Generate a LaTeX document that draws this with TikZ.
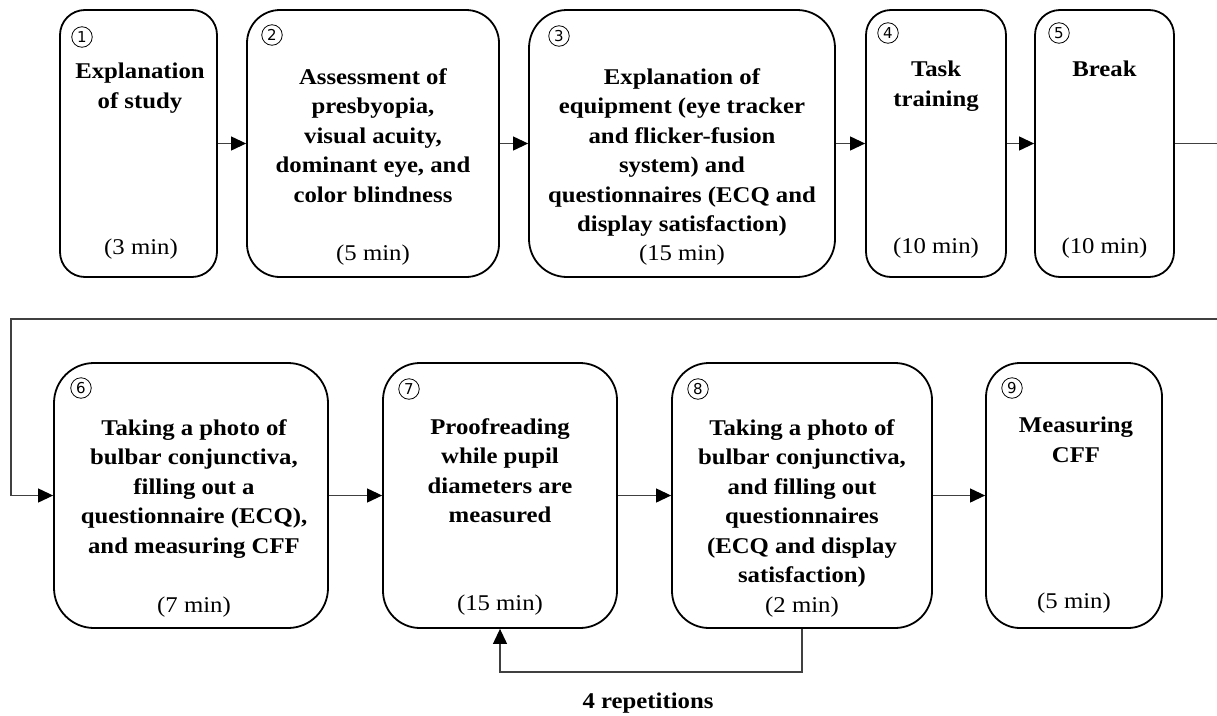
\documentclass[tikz,border=0pt]{standalone}
\usepackage{fontspec}
\setmainfont{Liberation Serif}[FakeStretch=1.1]
\newfontfamily\numfont{DejaVu Sans}
\usetikzlibrary{arrows.meta}
\tikzset{
  box/.style={draw=black, line width=1.8pt, fill=white, rectangle, inner sep=0pt},
  title/.style={anchor=north, align=center, inner sep=0pt, font=\bfseries\fontsize{22.5}{29.5}\selectfont},
  dur/.style={anchor=center, inner sep=0pt, font=\fontsize{22.5}{29.5}\selectfont},
  num/.style={circle, draw=black, line width=0.8pt, minimum size=20.5pt, inner sep=0pt, font=\numfont\fontsize{15}{15}\selectfont},
  conn/.style={draw=black!75, line width=1.1pt},
  arr/.style={conn, -{Triangle[length=15pt,width=14pt,color=black,fill=black]}},
}
\begin{document}
\begin{tikzpicture}[x=1pt,y=-1pt]
\useasboundingbox (0,0) rectangle (1217,715);
% top row
\node[box, rounded corners=25pt, minimum width=157pt, minimum height=267pt] (b1) at (138.5,143.5) {};
\node[box, rounded corners=33pt, minimum width=252pt, minimum height=267pt] (b2) at (373,143.5) {};
\node[box, rounded corners=38pt, minimum width=306pt, minimum height=267pt] (b3) at (682,143.5) {};
\node[box, rounded corners=25pt, minimum width=140pt, minimum height=267pt] (b4) at (936,143.5) {};
\node[box, rounded corners=25pt, minimum width=139pt, minimum height=267pt] (b5) at (1104.5,143.5) {};
% bottom row
\node[box, rounded corners=40pt, minimum width=274pt, minimum height=265pt] (b6) at (191,495.5) {};
\node[box, rounded corners=37pt, minimum width=234pt, minimum height=265pt] (b7) at (500,495.5) {};
\node[box, rounded corners=37pt, minimum width=260pt, minimum height=265pt] (b8) at (802,495.5) {};
\node[box, rounded corners=34pt, minimum width=176pt, minimum height=265pt] (b9) at (1074,495.5) {};

% numbers
\node[num] (n1) at (82,37) {1};
\node[num] (n2) at (272,35) {2};
\node[num] (n3) at (559,36) {3};
\node[num] (n4) at (888,33) {4};
\node[num] (n5) at (1059,33) {5};
\node[num] (n6) at (81,388) {6};
\node[num] (n7) at (409,389) {7};
\node[num] (n8) at (698,389) {8};
\node[num] (n9) at (1012,388) {9};

% titles
\node[title] (t1) at (140,63) {Explanation\\of study};
\node[title] (t2) at (373,68) {Assessment of\\presbyopia,\\visual acuity,\\dominant eye, and\\color blindness};
\node[title] (t3) at (682,68) {Explanation of\\equipment (eye tracker\\and flicker-fusion\\system) and\\questionnaires (ECQ and\\display satisfaction)};
\node[title] (t4) at (936,61) {Task\\training};
\node[title] (t5) at (1104.5,61) {Break};
\node[title] (t6) at (194,419) {Taking a photo of\\bulbar conjunctiva,\\filling out a\\questionnaire (ECQ),\\and measuring CFF};
\node[title] (t7) at (500,418) {Proofreading\\while pupil\\diameters are\\measured};
\node[title] (t8) at (802,419) {Taking a photo of\\bulbar conjunctiva,\\and filling out\\questionnaires\\(ECQ and display\\satisfaction)};
\node[title] (t9) at (1076,417) {Measuring\\CFF};

% durations
\node[dur] (m1) at (141,249) {(3 min)};
\node[dur] (m2) at (373,255) {(5 min)};
\node[dur] (m3) at (682,255) {(15 min)};
\node[dur] (m4) at (936,248) {(10 min)};
\node[dur] (m5) at (1104.5,248) {(10 min)};
\node[dur] (m6) at (194,607) {(7 min)};
\node[dur] (m7) at (500,605) {(15 min)};
\node[dur] (m8) at (802,607) {(2 min)};
\node[dur] (m9) at (1074,603) {(5 min)};

% connectors
\draw[arr] (b1) -- (b2);
\draw[arr] (b2) -- (b3);
\draw[arr] (b3) -- (b4);
\draw[arr] (b4) -- (b5);
\coordinate (e1) at (1217,143.5);
\coordinate (e2) at (1217,319);
\coordinate (e3) at (11,319);
\draw[conn] (b5.east) -- (e1);
\draw[arr] (e2) -- (e3) |- (b6.west);
\draw[arr] (b6) -- (b7);
\draw[arr] (b7) -- (b8);
\draw[arr] (b8) -- (b9);
\coordinate (lp) at (802,672);
\draw[arr] (b8.south) -- (lp) -| (b7.south);
\node[anchor=center, inner sep=0pt, font=\bfseries\fontsize{22.5}{29.5}\selectfont] (rep) at (648,703) {4 repetitions};
\end{tikzpicture}
\end{document}
